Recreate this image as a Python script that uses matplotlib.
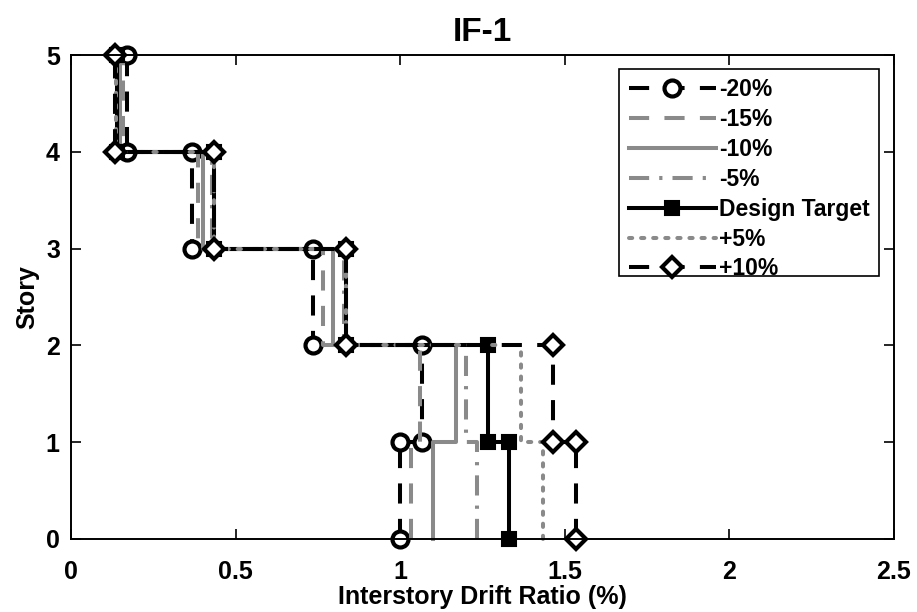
import numpy as np
import matplotlib
matplotlib.use("Agg")
import matplotlib.pyplot as plt
from matplotlib.patches import Rectangle

plt.rcParams['font.family'] = ['Liberation Sans', 'DejaVu Sans']
plt.rcParams['font.weight'] = 'bold'

# Interstory drift ratio (%) for stories 1..5
stories = [1, 2, 3, 4, 5]
drift_m20 = [1.000, 1.065, 0.734, 0.369, 0.169]
drift_m15 = [1.032, 1.060, 0.766, 0.385, 0.158]
drift_m10 = [1.099, 1.169, 0.797, 0.400, 0.150]
drift_m05 = [1.232, 1.200, 0.828, 0.428, 0.145]
drift_target = [1.331, 1.266, 0.835, 0.434, 0.140]
drift_p05 = [1.433, 1.367, 0.835, 0.434, 0.137]
drift_p10 = [1.534, 1.463, 0.834, 0.434, 0.134]

labels = ['-20%', '-15%', '-10%', '-5%', 'Design Target', '+5%', '+10%']
x_ticks = [0, 0.5, 1, 1.5, 2, 2.5]
y_ticks = [0, 1, 2, 3, 4, 5]

GRAY = '#8a8a8a'
LW = 2.9


def step_profile(drifts):
    # each story drawn as a vertical segment from floor (i-1) to floor i
    xs = np.repeat(drifts, 2)
    ys = np.empty(2 * len(drifts))
    for k, s in enumerate(stories):
        ys[2 * k] = s - 1
        ys[2 * k + 1] = s
    return xs, ys


styles = [
    dict(color='black', dashes=(5.0, 3.8), marker='o', ms=11.5, mfc='white', mec='black', mew=3.0),
    dict(color=GRAY, dashes=(5.0, 3.8)),
    dict(color=GRAY, linestyle='-'),
    dict(color=GRAY, dashes=(5.0, 2.5, 0.8, 2.5)),
    dict(color='black', linestyle='-', marker='s', ms=10, mfc='black', mec='black', mew=1.5),
    dict(color=GRAY, dashes=(0.8, 2.2), dash_capstyle='round'),
    dict(color='black', dashes=(5.0, 3.8), marker='D', ms=10, mfc='white', mec='black', mew=3.0),
]
series = [drift_m20, drift_m15, drift_m10, drift_m05, drift_target, drift_p05, drift_p10]

fig = plt.figure(figsize=(9.17, 6.12), dpi=100)
ax = fig.add_axes([0.0774, 0.1193, 0.8975, 0.7908])

for d, lab, st in zip(series, labels, styles):
    xs, ys = step_profile(d)
    ax.plot(xs, ys, lw=LW, label=lab, clip_on=False, **st)

ax.set_xlim(0, 2.5)
ax.set_ylim(0, 5)
ax.set_xticks(x_ticks)
ax.set_xticklabels(['0', '0.5', '1', '1.5', '2', '2.5'])
ax.set_yticks(y_ticks)
ax.tick_params(direction='in', length=7, width=1.2, labelsize=18,
               top=True, right=True)
ax.tick_params(axis='x', pad=15)
ax.tick_params(axis='y', pad=8)
for sp in ax.spines.values():
    sp.set_linewidth(1.4)

ax.set_xlabel('Interstory Drift Ratio (%)', fontsize=18, fontweight='bold', labelpad=1)
ax.set_ylabel('Story', fontsize=18, fontweight='bold', labelpad=5)
ax.set_title('IF-1', fontsize=24, fontweight='bold', pad=10)

leg = ax.legend(loc='upper right', bbox_to_anchor=(0.9818, 0.971), fontsize=16.5,
                handlelength=3.8, handletextpad=0.15, labelspacing=0.3,
                borderpad=0.4, numpoints=1, frameon=False, borderaxespad=0)

# legend box: tighter below the last entry than above the first
fig.canvas.draw()
bb = leg.get_window_extent()
inv = fig.transFigure.inverted()
(fx0, fy0), (fx1, fy1) = inv.transform([[bb.x0, bb.y0 + 14], [bb.x1, bb.y1]])
frame = Rectangle((fx0, fy0), fx1 - fx0, fy1 - fy0, transform=fig.transFigure,
                  facecolor='white', edgecolor='black', lw=1.2, zorder=4.9,
                  clip_on=False)
ax.add_artist(frame)

fig.savefig('out.png', dpi=100)
